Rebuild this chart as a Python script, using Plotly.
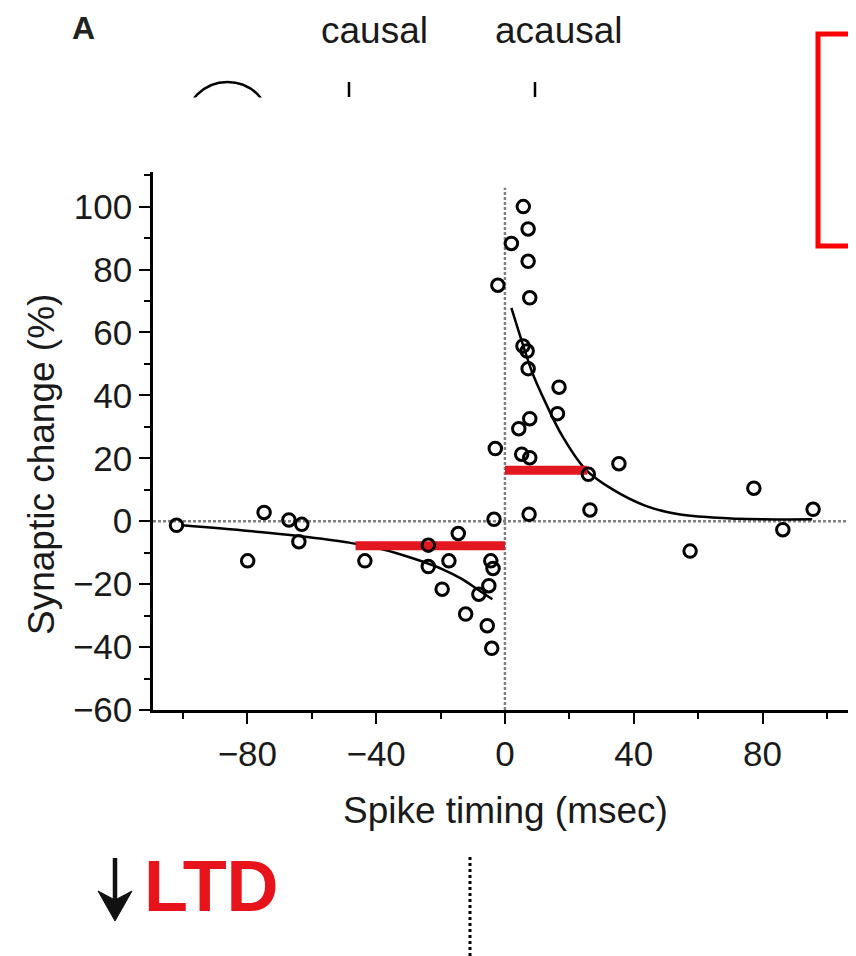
import plotly.graph_objects as go

# ---------------- data ----------------
timing = [-102.0, -79.9, -74.8, -67.1, -63.1, -64.0, -43.5, -23.8, -23.8, -14.5,
          -17.4, -19.5, -12.2, -8.1, -5.0, -4.4, -3.7, -5.5, -4.1, -3.4,
          -2.2, -3.0,
          2.0, 5.7, 7.2, 7.2, 7.7, 5.6, 6.9, 7.2, 16.8, 16.3,
          7.7, 4.3, 5.2, 7.7, 35.4, 25.9, 77.3, 95.7, 86.3, 7.5,
          26.4, 57.5]
change = [-1.3, -12.6, 2.8, 0.4, -1.0, -6.5, -12.6, -7.6, -14.4, -3.9,
          -12.6, -21.6, -29.5, -23.2, -20.5, -12.6, -15.0, -33.2, -40.4, 0.6,
          75.0, 23.1,
          88.3, 100.0, 92.9, 82.6, 71.0, 55.7, 54.1, 48.5, 42.6, 34.2,
          32.6, 29.4, 21.3, 20.2, 18.3, 14.9, 10.5, 3.8, -2.7, 2.2,
          3.6, -9.5]

# fitted curves
ltd_fit_x = [-100.2, -79.5, -64.0, -48.4, -38.1, -27.7, -19.5, -13.3, -8.6, -3.9]
ltd_fit_y = [-1.3, -3.1, -4.7, -6.8, -8.9, -12.1, -15.2, -18.4, -21.6, -24.8]
ltp_fit_x = [2.0, 5.4, 8.5, 12.6, 17.8, 25.0, 33.3, 43.7, 54.0, 64.4, 79.9, 95.4]
ltp_fit_y = [67.8, 56.7, 47.2, 37.7, 27.1, 16.5, 10.2, 4.9, 2.2, 1.2, 0.6, 0.6]

# mean change bars
ltd_bar_x = [-46.4, 0.0]
ltd_bar_y = [-7.8, -7.8]
ltp_bar_x = [0.0, 25.6]
ltp_bar_y = [16.2, 16.2]

x_ticks = [-80, -40, 0, 40, 80]
y_ticks = [-60, -40, -20, 0, 20, 40, 60, 80, 100]

# ---------------- layout geometry ----------------
OFF = 8  # page body margin
W, H = 856, 956
L, R, T, B = 145, 0, 164, 254
PW, PH = W - L - R, H - T - B
XR = [-109.3, -109.3 + PW / 3.22]
YR = [-60, 111]


def px(x):  # page pixel -> paper x
    return (x - OFF - L) / PW


def py(y):  # page pixel -> paper y
    return (H - B - (y - OFF)) / PH


FONT = "Liberation Sans, Arial, Helvetica, sans-serif"
INK = "#1a1a1a"
RED_BAR = "#e3171f"

fig = go.Figure()

fig.add_trace(go.Scatter(x=ltd_fit_x, y=ltd_fit_y, mode="lines",
                         line=dict(color="black", width=2.5, shape="spline"),
                         hoverinfo="skip", showlegend=False))
fig.add_trace(go.Scatter(x=ltp_fit_x, y=ltp_fit_y, mode="lines",
                         line=dict(color="black", width=2.5, shape="spline"),
                         hoverinfo="skip", showlegend=False))
fig.add_trace(go.Scatter(x=ltd_bar_x, y=ltd_bar_y, mode="lines",
                         line=dict(color=RED_BAR, width=9),
                         hoverinfo="skip", showlegend=False))
fig.add_trace(go.Scatter(x=ltp_bar_x, y=ltp_bar_y, mode="lines",
                         line=dict(color=RED_BAR, width=9),
                         hoverinfo="skip", showlegend=False))
fig.add_trace(go.Scatter(x=timing, y=change, mode="markers",
                         marker=dict(symbol="circle-open", size=12.5,
                                     color="black", line=dict(width=3, color="black")),
                         showlegend=False))

shapes = []
shapes.append(dict(type="line", xref="x", yref="y", x0=XR[0], x1=XR[1], y0=0, y1=0,
                   line=dict(color="#808080", width=2.5, dash="3px,2px"), layer="below"))
shapes.append(dict(type="line", xref="x", yref="y", x0=0, x1=0, y0=YR[0], y1=106,
                   line=dict(color="#808080", width=2.5, dash="3px,2px"), layer="below"))

# top schematic (partly hidden)
shapes.append(dict(type="circle", xref="paper", yref="paper",
                   x0=px(184.5), x1=px(270.5), y0=py(168), y1=py(82),
                   line=dict(color="black", width=2.5)))
shapes.append(dict(type="rect", xref="paper", yref="paper",
                   x0=px(150), x1=px(300), y0=py(170), y1=py(97.5),
                   line=dict(width=0), fillcolor="white"))
for xx in (349, 535):
    shapes.append(dict(type="line", xref="paper", yref="paper",
                       x0=px(xx), x1=px(xx), y0=py(97), y1=py(82),
                       line=dict(color="black", width=2.5)))
shapes.append(dict(type="rect", xref="paper", yref="paper",
                   x0=px(818), x1=px(890), y0=py(246), y1=py(34),
                   line=dict(color="#ff0000", width=5)))
# down arrow
shapes.append(dict(type="line", xref="paper", yref="paper",
                   x0=px(115), x1=px(115), y0=py(858), y1=py(905),
                   line=dict(color="#111111", width=4.5)))
shapes.append(dict(type="path", xref="paper", yref="paper",
                   path=f"M {px(98)} {py(891)} L {px(115)} {py(921)} L {px(132)} {py(891)} "
                        f"L {px(115)} {py(900)} Z",
                   fillcolor="#111111", line=dict(color="#111111", width=1)))
shapes.append(dict(type="line", xref="paper", yref="paper",
                   x0=px(470), x1=px(470), y0=py(857), y1=py(975),
                   line=dict(color="black", width=3, dash="dot")))

annotations = [
    dict(text="<b>A</b>", x=px(83), y=py(9), xref="paper", yref="paper",
         showarrow=False, xanchor="center", yanchor="top", borderpad=0,
         font=dict(family=FONT, size=32, color="#222222")),
    dict(text="causal", x=px(374), y=py(8.5), xref="paper", yref="paper",
         showarrow=False, xanchor="center", yanchor="top", borderpad=0,
         font=dict(family=FONT, size=37, color=INK)),
    dict(text="acausal", x=px(559), y=py(8.5), xref="paper", yref="paper",
         showarrow=False, xanchor="center", yanchor="top", borderpad=0,
         font=dict(family=FONT, size=37, color=INK)),
    dict(text="Synaptic change (%)", x=px(42), y=py(465), xref="paper", yref="paper",
         showarrow=False, xanchor="center", yanchor="middle", textangle=-90,
         font=dict(family=FONT, size=37, color=INK)),
    dict(text="Spike timing (msec)", x=px(505), y=py(810), xref="paper", yref="paper",
         showarrow=False, xanchor="center", yanchor="middle",
         font=dict(family=FONT, size=37, color=INK)),
    dict(text="<b>LTD</b>", x=px(142), y=py(886), xref="paper", yref="paper",
         showarrow=False, xanchor="left", yanchor="middle",
         font=dict(family=FONT, size=72, color="#e8141c")),
]

fig.update_layout(
    width=W, height=H, autosize=False,
    margin=dict(l=L, r=R, t=T, b=B, pad=0),
    paper_bgcolor="white", plot_bgcolor="white",
    shapes=shapes, annotations=annotations,
    showlegend=False,
    xaxis=dict(range=XR, showgrid=False, zeroline=False,
               showline=True, linecolor="black", linewidth=2.5,
               tickmode="array", tickvals=x_ticks,
               ticks="outside", ticklen=11, tickwidth=2.2, tickcolor="black",
               minor=dict(tickmode="linear", tick0=0, dtick=20, ticks="outside",
                          ticklen=6, tickwidth=2.2, tickcolor="black"),
               tickfont=dict(family=FONT, size=35, color=INK)),
    yaxis=dict(range=YR, showgrid=False, zeroline=False,
               showline=True, linecolor="black", linewidth=2.5,
               tickmode="array", tickvals=y_ticks,
               ticks="outside", ticklen=11, tickwidth=2.2, tickcolor="black",
               minor=dict(tickmode="linear", tick0=0, dtick=10, ticks="outside",
                          ticklen=6, tickwidth=2.2, tickcolor="black"),
               tickfont=dict(family=FONT, size=35, color=INK)),
)

fig.write_html("out.html")
